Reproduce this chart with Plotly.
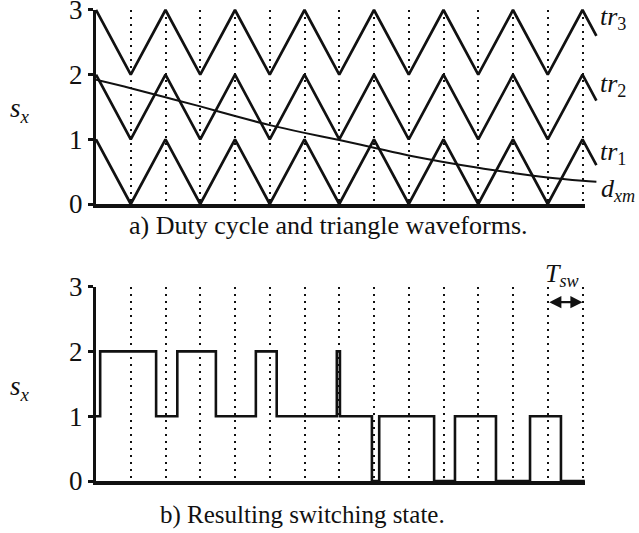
import plotly.graph_objects as go

# ---------------- data ----------------
# time axis in units of the dotted spacing (T_sw)
t_tri = [0, 1, 2, 3, 4, 5, 6, 7, 8, 9, 10, 11, 12, 13, 14, 14.4]
tr1 = [1, 0, 1, 0, 1, 0, 1, 0, 1, 0, 1, 0, 1, 0, 1, 0.6]
tr2 = [2, 1, 2, 1, 2, 1, 2, 1, 2, 1, 2, 1, 2, 1, 2, 1.6]
tr3 = [3, 2, 3, 2, 3, 2, 3, 2, 3, 2, 3, 2, 3, 2, 3, 2.6]

t_d = [0, 1, 2, 3, 4, 5, 6, 7, 8, 9, 10, 11, 12, 13, 14, 14.4]
d_xm = [1.92, 1.79, 1.65, 1.51, 1.36, 1.22, 1.10, 0.99, 0.87, 0.75, 0.65,
        0.56, 0.48, 0.41, 0.36, 0.345]

t_sw = [0, 0.12, 1.73, 2.34, 3.45, 4.60, 5.20, 6.93, 7.02, 7.94, 8.15,
        9.73, 10.33, 11.51, 12.49, 13.38, 14.07]
s_x = [1, 2, 1, 2, 1, 2, 1, 2, 1, 0, 1, 0, 1, 0, 1, 0, 0]

y_ticks = [0, 1, 2, 3]
grid_t = [1, 2, 3, 4, 5, 6, 7, 8, 9, 10, 11, 12, 13, 14]
tri_labels = ["<i>tr</i><sub>1</sub>", "<i>tr</i><sub>2</sub>", "<i>tr</i><sub>3</sub>"]

# ---------------- layout geometry (pixels) ----------------
W, H = 639, 533
X0, UX = 96, 34.75          # pixel of t=0, pixels per unit
Y0A, UYA = 204, 64.67       # top panel: pixel of y=0, pixels per unit
Y0B, UYB = 481, 64.8        # bottom panel
T_AX = 14.07                # end of drawn axis
T_EXT = 14.5                # extended range for waveforms

def px(p):
    return p / W

def py(p):
    return 1 - p / H

FONT = "Liberation Serif"
INK = "#111111"

fig = go.Figure()

# invisible anchor trace so that the top axes are drawn
fig.add_trace(go.Scatter(x=[0, T_AX], y=[0, 0], mode="lines", xaxis="x", yaxis="y",
                         line=dict(color="rgba(0,0,0,0)", width=0),
                         showlegend=False, hoverinfo="skip"))

# triangle carriers + duty cycle (on extended overlay axes x2/y2)
for v in (tr1, tr2, tr3):
    fig.add_trace(go.Scatter(x=t_tri, y=v, mode="lines", xaxis="x2", yaxis="y2",
                             line=dict(color=INK, width=2.7), showlegend=False,
                             hoverinfo="skip"))
fig.add_trace(go.Scatter(x=t_d, y=d_xm, mode="lines", xaxis="x2", yaxis="y2",
                         line=dict(color=INK, width=2, shape="spline"),
                         showlegend=False, hoverinfo="skip"))

# switching state
fig.add_trace(go.Scatter(x=t_sw, y=s_x, mode="lines", xaxis="x3", yaxis="y3",
                         line=dict(color=INK, width=2.6, shape="hv"),
                         showlegend=False, hoverinfo="skip"))

grid_common = dict(showgrid=True, gridcolor=INK, gridwidth=2, griddash="2px,5px",
                   tickmode="array", tickvals=grid_t, showticklabels=False,
                   ticks="", zeroline=False, showline=True, linecolor=INK,
                   linewidth=4, fixedrange=True, automargin=False)
yax_common = dict(range=[0, 3], tickmode="array", tickvals=y_ticks,
                  showgrid=False, zeroline=False, showline=True, linecolor=INK,
                  linewidth=3, ticks="outside", ticklen=5, tickwidth=3,
                  tickcolor=INK, tickfont=dict(family=FONT, size=27, color=INK),
                  ticklabeloverflow="allow",
                  fixedrange=True, automargin=False)

fig.update_layout(
    width=W, height=H, margin=dict(l=0, r=0, t=0, b=0, pad=0),
    paper_bgcolor="white", plot_bgcolor="rgba(0,0,0,0)",
    xaxis=dict(domain=[px(X0), px(X0 + T_AX * UX)], range=[0, T_AX], anchor="y",
               **grid_common),
    yaxis=dict(domain=[py(Y0A), py(Y0A - 3 * UYA)], anchor="x", **yax_common),
    xaxis2=dict(domain=[px(X0), px(X0 + T_EXT * UX)], range=[0, T_EXT],
                anchor="y2", visible=False, fixedrange=True, automargin=False),
    yaxis2=dict(domain=[py(Y0A + 0.06 * UYA), py(Y0A - 3.06 * UYA)],
                range=[-0.06, 3.06], anchor="x2", visible=False, fixedrange=True,
                automargin=False),
    xaxis3=dict(domain=[px(X0), px(X0 + T_AX * UX)], range=[0, T_AX], anchor="y3",
                **grid_common),
    yaxis3=dict(domain=[py(Y0B), py(Y0B - 3 * UYB)], anchor="x3", **yax_common),
)

ann = []
lab_y = [0.79, 1.84, 2.88]
for lab, yy in zip(tri_labels, lab_y):
    ann.append(dict(x=14.45, y=yy, xref="x2", yref="y2", text=lab, showarrow=False,
                    xanchor="left", yanchor="middle",
                    font=dict(family=FONT, size=26, color=INK)))
ann.append(dict(x=14.47, y=0.22, xref="x2", yref="y2",
                text="<i>d</i><sub><i>xm</i></sub>", showarrow=False,
                xanchor="left", yanchor="middle",
                font=dict(family=FONT, size=26, color=INK)))
# y labels
for yc in (110, 388):
    ann.append(dict(x=px(20), y=py(yc), xref="paper", yref="paper",
                    text="<i>s</i><sub><i>x</i></sub>", showarrow=False,
                    xanchor="center", yanchor="middle",
                    font=dict(family=FONT, size=27, color=INK)))
# captions
ann.append(dict(x=px(328), y=py(226), xref="paper", yref="paper",
                text="a) Duty cycle and triangle waveforms.", showarrow=False,
                xanchor="center", yanchor="middle",
                font=dict(family=FONT, size=26, color=INK)))
ann.append(dict(x=px(302), y=py(515), xref="paper", yref="paper",
                text="b) Resulting switching state.", showarrow=False,
                xanchor="center", yanchor="middle",
                font=dict(family=FONT, size=25, color=INK)))
# T_sw arrow + label
ann.append(dict(x=14, y=2.76, ax=13, ay=2.76, xref="x3", yref="y3",
                axref="x3", ayref="y3", text="", showarrow=True,
                arrowhead=2, arrowside="end+start", arrowsize=1.1,
                arrowwidth=2.2, arrowcolor=INK, standoff=0, startstandoff=0))
ann.append(dict(x=px(562), y=py(275), xref="paper", yref="paper",
                text="<i>T</i><sub><i>sw</i></sub>", showarrow=False,
                xanchor="center", yanchor="middle",
                font=dict(family=FONT, size=26, color=INK)))
fig.update_layout(annotations=ann)

fig.write_html("out.html")
